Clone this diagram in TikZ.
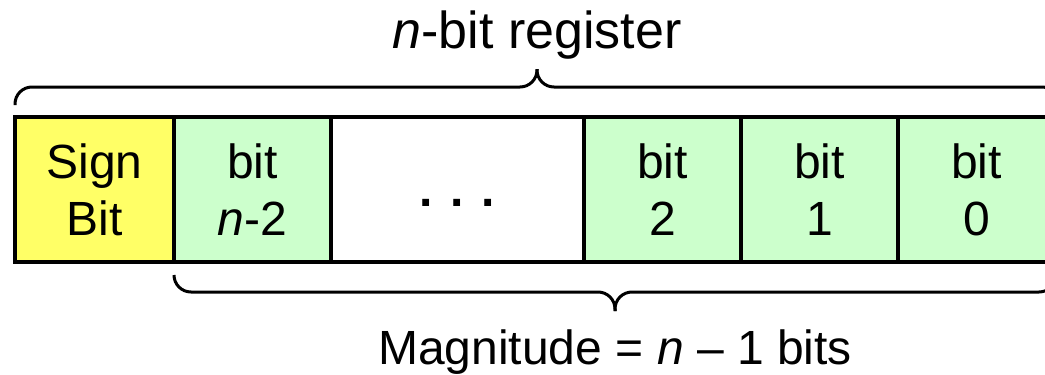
\documentclass[tikz,border=0pt]{standalone}
\usepackage{fontspec}
\setmainfont{Liberation Sans}
\definecolor{signyellow}{HTML}{FFFF66}
\definecolor{bitgreen}{HTML}{CCFFCC}
\begin{document}
\begin{tikzpicture}[x=1pt,y=-1pt,
  cell/.style={draw=black, line width=4pt, minimum height=145pt, inner sep=0pt,
    align=center, font=\fontsize{48}{57}\selectfont},
  bitcell/.style={cell, fill=bitgreen, minimum width=157pt},
  brace/.style={draw=black, line width=3pt, rounded corners=17pt},
  lbl/.style={font=\fontsize{48}{57}\selectfont, inner sep=0pt, anchor=base}]
\useasboundingbox (0,0) rectangle (1045,375);
\clip (0,0) rectangle (1045,375);
% cells
\node[cell, fill=signyellow, minimum width=159pt] (sign) at (94.5,189.5) {Sign\\Bit};
\node[bitcell] (bnm2) at (252.5,189.5) {bit\\\textit{n}-2};
\node[cell, fill=white, minimum width=253pt] (dots) at (457.5,189.5) {\vphantom{B}\textbf{. . .}};
\node[bitcell] (b2) at (662.5,189.5) {bit\\2};
\node[bitcell] (b1) at (819.5,189.5) {bit\\1};
\node[bitcell] (b0) at (976.5,189.5) {bit\\0};
% labels
\node[lbl, font=\fontsize{52}{60}\selectfont] (title) at (537,48) {\textit{n}-bit register};
\node[lbl] (mag) at (615,364) {Magnitude = \textit{n} – 1 bits};
% top brace
\draw[brace] (15,105) -- (15,87) -- (537,87) -- (537,69);
\draw[brace] (537,69) -- (537,87) -- (1059,87) -- (1059,105);
% bottom brace
\draw[brace] (174,275) -- (174,292) -- (615,292) -- (615,311);
\draw[brace] (615,311) -- (615,292) -- (1056,292) -- (1056,275);
\end{tikzpicture}
\end{document}
